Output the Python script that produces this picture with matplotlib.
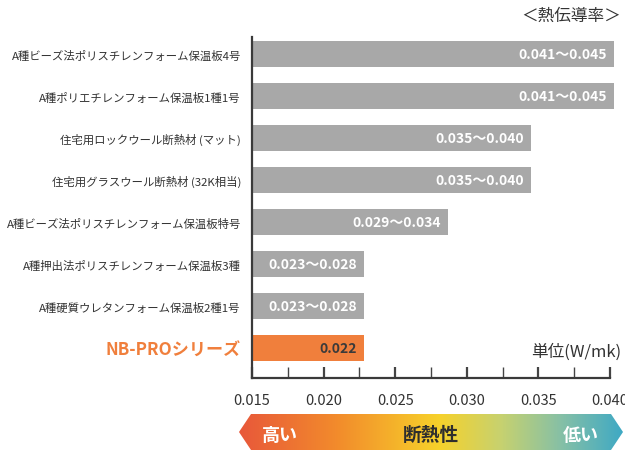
import numpy as np
import matplotlib
matplotlib.use("Agg")
import matplotlib.pyplot as plt
from matplotlib.colors import LinearSegmentedColormap
from matplotlib.patches import Polygon

plt.rcParams['font.family'] = ['Noto Sans CJK JP', 'DejaVu Sans']

# データ
materials = [
    "A種ビーズ法ポリスチレンフォーム保温板4号",
    "A種ポリエチレンフォーム保温板1種1号",
    "住宅用ロックウール断熱材 (マット)",
    "住宅用グラスウール断熱材 (32K相当)",
    "A種ビーズ法ポリスチレンフォーム保温板特号",
    "A種押出法ポリスチレンフォーム保温板3種",
    "A種硬質ウレタンフォーム保温板2種1号",
    "NB-PROシリーズ",
]
bar_values = [0.0403, 0.0403, 0.0345, 0.0345, 0.0287, 0.0228, 0.0228, 0.0228]
value_labels = ["0.041〜0.045", "0.041〜0.045", "0.035〜0.040", "0.035〜0.040",
                "0.029〜0.034", "0.023〜0.028", "0.023〜0.028", "0.022"]
ticks = [0.015, 0.020, 0.025, 0.030, 0.035, 0.040]

gray = "#a8a8a8"
orange = "#f07f3c"

fig = plt.figure(figsize=(6.25, 4.52), dpi=100)
W, H = 625, 452

# 軸の位置 (ピクセルから)
left, right, top, bottom = 252, 610, 38, 379
ax = fig.add_axes([left / W, 1 - bottom / H, (right - left) / W, (bottom - top) / H])

y = np.arange(len(materials))
colors = [gray] * (len(materials) - 1) + [orange]
ax.barh(y, [v - 0.015 for v in bar_values], left=0.015, height=0.64,
        color=colors, clip_on=False)

for i, (v, lab) in enumerate(zip(bar_values, value_labels)):
    c = "white" if i < len(materials) - 1 else "#3a3a3a"
    ax.annotate(lab, xy=(v, i), xytext=(-5, 0), textcoords="offset points",
                ha="right", va="center", color=c, fontsize=10, fontweight="bold",
                annotation_clip=False)

ax.set_xlim(0.015, 0.040)
ax.set_ylim(7.714, -0.405)

ax.set_yticks(y)
ax.set_yticklabels(materials, fontsize=8.2, color="#333333")
ax.tick_params(axis="y", length=0, pad=8)
lbl = ax.get_yticklabels()[-1]
lbl.set_color(orange)
lbl.set_fontsize(12.3)
lbl.set_fontweight("bold")

ax.set_xticks(ticks)
ax.set_xticklabels([f"{t:.3f}" for t in ticks], fontsize=10.5, color="#333333")
ax.set_xticks([0.0175, 0.0225, 0.0275, 0.0325, 0.0375], minor=True)
ax.tick_params(axis="x", which="major", direction="in", length=8, width=1.6,
               color="#444444", pad=11)
ax.tick_params(axis="x", which="minor", direction="in", length=8, width=1.0,
               color="#444444")

for s in ["top", "right"]:
    ax.spines[s].set_visible(False)
for s in ["left", "bottom"]:
    ax.spines[s].set_color("#3a3a3a")
    ax.spines[s].set_linewidth(1.6)

fig.text(621 / W, 1 - 16 / H, "＜熱伝導率＞", ha="right", va="center",
         fontsize=12, color="#333333")
fig.text(621 / W, 1 - 352 / H, "単位(W/mk)", ha="right", va="center",
         fontsize=12, color="#333333")

# 断熱性の矢印
a_l, a_r, a_t, a_b = 239, 623, 415, 451
ax2 = fig.add_axes([a_l / W, 1 - a_b / H, (a_r - a_l) / W, (a_b - a_t) / H])
ax2.set_xlim(0, 1)
ax2.set_ylim(0, 1)
ax2.axis("off")
cmap = LinearSegmentedColormap.from_list("heat", [
    (0.0, "#e8583a"), (0.25, "#f28a2c"), (0.52, "#f7d12a"),
    (0.68, "#c8d26e"), (0.84, "#86c0a6"), (1.0, "#3fa9c4")])
grad = np.linspace(0, 1, 256).reshape(1, -1)
im = ax2.imshow(grad, cmap=cmap, extent=[0, 1, 0, 1], aspect="auto")
tip = 12 / (a_r - a_l)
arrow = Polygon([(0, 0.5), (tip, 1), (1 - tip, 1), (1, 0.5), (1 - tip, 0), (tip, 0)],
                closed=True, transform=ax2.transData, facecolor="none", edgecolor="none")
ax2.add_patch(arrow)
im.set_clip_path(arrow)
ax2.text((280 - a_l) / (a_r - a_l), 0.42, "高い", ha="center", va="center",
         color="white", fontsize=13, fontweight="bold")
ax2.text((431 - a_l) / (a_r - a_l), 0.42, "断熱性", ha="center", va="center",
         color="#2e2e2e", fontsize=13.5, fontweight="bold")
ax2.text((581 - a_l) / (a_r - a_l), 0.42, "低い", ha="center", va="center",
         color="white", fontsize=13, fontweight="bold")

fig.savefig("out.png", dpi=100)
